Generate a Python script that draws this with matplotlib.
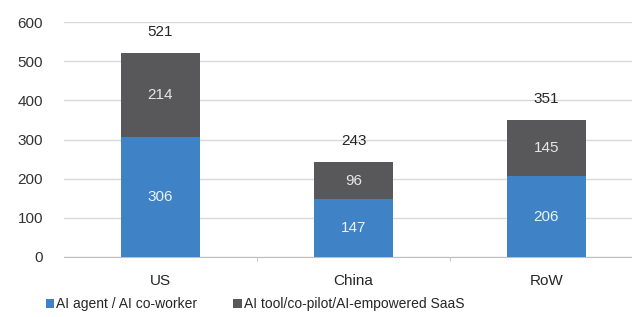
import matplotlib.pyplot as plt
import numpy as np

regions = ["US", "China", "RoW"]
agent = [306, 147, 206]
tool = [214, 96, 145]
totals = [521, 243, 351]
yticks = [0, 100, 200, 300, 400, 500, 600]

BLUE = "#3F83C6"
GREY = "#58585B"

plt.rcParams["font.family"] = ["Liberation Sans", "DejaVu Sans"]

fig = plt.figure(figsize=(6.32, 3.17), dpi=100)
ax = fig.add_axes([64 / 632, 60 / 317, 568 / 632, 235 / 317])

x = np.arange(len(regions))
w = 0.41
b1 = ax.bar(x, agent, w, color=BLUE, label="AI agent / AI co-worker", zorder=3)
b2 = ax.bar(x, tool, w, bottom=agent, color=GREY, label="AI tool/co-pilot/AI-empowered SaaS", zorder=3)

for i in range(len(regions)):
    ax.text(x[i], agent[i] / 2, str(agent[i]), ha="center", va="center", color="#EAF2FA", fontsize=11, zorder=4)
    ax.text(x[i], agent[i] + tool[i] / 2, str(tool[i]), ha="center", va="center", color="#E6E6E6", fontsize=11, zorder=4)
    ax.annotate(str(totals[i]), (x[i], totals[i]), xytext=(0, 15), textcoords="offset points",
                ha="center", va="center", color="#262626", fontsize=11)

ax.set_ylim(0, 600)
ax.set_xlim(-0.5, 568 / 193 - 0.5)
ax.set_yticks(yticks)
ax.yaxis.grid(True, color="#D9D9D9", linewidth=1, zorder=0)
ax.tick_params(axis="y", length=0, labelsize=11, labelcolor="#333333", pad=15)
ax.set_xticks(x)
ax.set_xticklabels(regions)
ax.tick_params(axis="x", length=0, labelsize=11, labelcolor="#262626", pad=12)
ax.set_xticks([0.5, 1.5], minor=True)
ax.tick_params(axis="x", which="minor", length=3, color="#BFBFBF")
for s in ["top", "right", "left"]:
    ax.spines[s].set_visible(False)
ax.spines["bottom"].set_color("#BFBFBF")

fig.legend(handles=[b1, b2], loc="center", bbox_to_anchor=(255 / 632, 1 - 304 / 317), ncol=2,
           frameon=False, fontsize=10, handlelength=0.6, handleheight=0.6, handletextpad=0.15,
           columnspacing=2.6, labelcolor="#262626")

fig.savefig("out.png", dpi=100)
